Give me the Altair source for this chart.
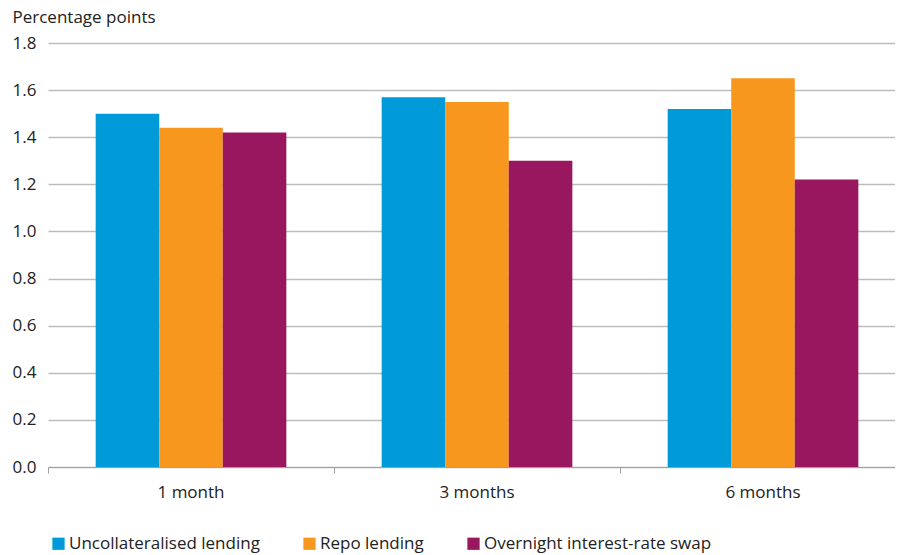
import altair as alt
import pandas as pd

maturities = ["1 month", "3 months", "6 months"]
series = ["Uncollateralised lending", "Repo lending", "Overnight interest-rate swap"]
uncollateralised = [1.50, 1.57, 1.52]
repo = [1.44, 1.55, 1.65]
ois = [1.42, 1.30, 1.22]
colors = ["#009ad8", "#f7971e", "#99175e"]
y_ticks = [0.0, 0.2, 0.4, 0.6, 0.8, 1.0, 1.2, 1.4, 1.6, 1.8]

rows = []
for s, vals in zip(series, [uncollateralised, repo, ois]):
    for m, v in zip(maturities, vals):
        rows.append({"maturity": m, "series": s, "value": v})
df = pd.DataFrame(rows)

FONT = "Open Sans"
FS = 17

chart = alt.Chart(df).mark_bar().encode(
    x=alt.X("maturity:N", sort=maturities,
            scale=alt.Scale(paddingInner=0, paddingOuter=0, range=[0, 858]),
            axis=alt.Axis(title=None, labelAngle=0, bandPosition=0, grid=False,
                          domainColor="#a0a0a0", tickColor="#a0a0a0", tickSize=6,
                          labelPadding=11, labelFontSize=FS, labelColor="#222222",
                          labelFont=FONT)),
    xOffset=alt.XOffset("series:N", sort=series,
                        scale=alt.Scale(paddingInner=0, paddingOuter=0.75)),
    y=alt.Y("value:Q", scale=alt.Scale(domain=[0, 1.8], nice=False),
            axis=alt.Axis(values=y_ticks, format=".1f", domain=False, ticks=False,
                          grid=True, gridColor="#bdbdbd", gridWidth=1.3,
                          labelPadding=12, labelFontSize=FS, labelColor="#222222",
                          labelFont=FONT,
                          title="Percentage points", titleAngle=0, titleAlign="left",
                          titleBaseline="alphabetic", titleX=-36, titleY=-21,
                          titleFontWeight="normal", titleFontSize=FS, titleColor="#222222",
                          titleFont=FONT)),
    color=alt.Color("series:N", sort=series,
                    scale=alt.Scale(domain=series, range=colors),
                    legend=alt.Legend(title=None, orient="none", direction="horizontal",
                                      legendX=2, legendY=492, symbolType="square",
                                      symbolSize=150, symbolStrokeWidth=0,
                                      labelFontSize=FS, labelFont=FONT, labelColor="#222222",
                                      labelLimit=0, columnPadding=41, labelOffset=2)),
).properties(
    width=847, height=424,
    autosize=alt.AutoSizeParams(type="none"),
    padding={"left": 40, "top": 35, "right": 0, "bottom": 90},
).configure_view(stroke=None)

chart.save("out.html", embed_options={"renderer": "svg", "actions": False})
